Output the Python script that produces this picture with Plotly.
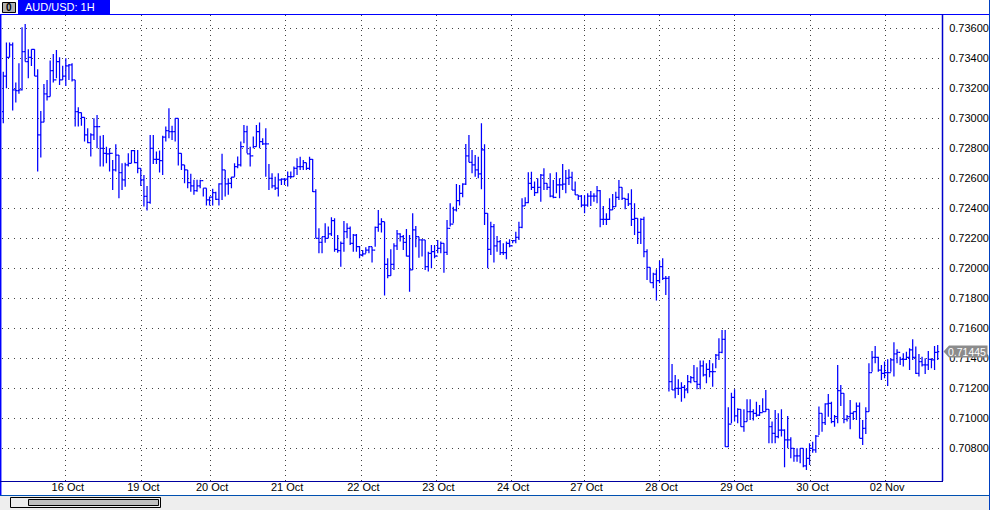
import plotly.graph_objects as go

# prices in points (1 point = 0.00001)
first_open = 73044
highs = [
73311,73505,73505,73505,73238,73367,73607,73629,73460,73460,73460,73327,73049,73229,73256,73385,73429,73456,73407,73351,
73400,73362,73367,73256,73074,73038,73007,72934,72900,73000,73022,72883,72889,72811,72800,72722,72827,72755,72700,72704,
72767,72789,72789,72789,72667,72622,72549,72889,72889,72778,72785,72883,72945,73067,72950,73000,73000,72767,72689,72656,
72630,72590,72590,72590,72534,72534,72479,72530,72511,72567,72763,72656,72600,72611,72700,72745,72845,72956,72950,72811,
72878,72956,72972,72867,72934,72696,72634,72611,72634,72600,72600,72645,72645,72678,72733,72744,72722,72704,72744,72729,
72527,72267,72211,72300,72278,72340,72333,72222,72178,72316,72300,72278,72229,72229,72149,72122,72140,72149,72144,72278,
72389,72333,72311,72067,72127,72167,72256,72233,72222,72262,72222,72367,72282,72211,72189,72189,72111,72156,72156,72189,
72178,72167,72322,72433,72411,72562,72556,72567,72829,72889,72789,72756,72744,72967,72827,72367,72311,72295,72216,72189,
72167,72178,72193,72189,72244,72311,72467,72473,72640,72644,72578,72600,72629,72667,72567,72633,72589,72640,72600,72696,
72656,72660,72644,72578,72489,72489,72489,72500,72516,72500,72549,72522,72416,72367,72467,72496,72511,72589,72540,
72467,72500,72527,72433,72333,72333,72344,72127,72007,71971,71993,72051,72067,71949,71949,71362,71289,71260,71240,71222,
71289,71282,71356,71340,71385,71385,71367,71389,71367,71429,71533,71589,71589,71074,71171,71193,71067,71060,71060,71127,
71127,71060,71111,71089,71133,71189,71060,70978,71056,71033,71060,70927,71016,70874,70800,70800,70800,70800,70800,70833,
70844,70889,71078,71033,71100,71162,71111,71022,71356,71222,71167,71022,71122,71044,71105,71105,70989,71074,71367,71449,
71482,71411,71356,71378,71393,71400,71507,71460,71411,71433,71444,71467,71527,71478,71429,71411,71400,71449,71400,71482,71489]
lows = [
72967,73200,73407,73052,73105,73163,73185,73378,73267,73349,73282,72645,72739,72974,73118,73145,73238,73267,73222,73256,
73216,73256,73245,72945,72945,72950,72845,72834,72745,72856,72800,72678,72678,72700,72645,72522,72645,72467,72522,72544,
72678,72700,72700,72633,72549,72412,72385,72430,72696,72696,72638,72622,72845,72867,72856,72845,72685,72656,72567,72534,
72511,72490,72511,72534,72479,72419,72419,72419,72456,72419,72456,72479,72490,72534,72611,72667,72678,72834,72767,72678,
72800,72811,72800,72822,72611,72522,72533,72522,72478,72556,72556,72545,72600,72611,72622,72656,72656,72656,72656,72508,
72200,72100,72100,72171,72200,72216,72111,72104,72011,72111,72200,72156,72111,72111,72067,72078,72100,72100,72038,72144,
72244,72238,71818,71933,71951,71989,72122,72178,72122,72078,71844,71989,72140,72071,72078,71989,71978,72000,72067,72100,
72100,71971,72089,72278,72300,72378,72418,72473,72556,72707,72633,72611,72600,72527,72289,72000,72089,72038,72111,72089,
72089,72060,72140,72167,72167,72189,72267,72416,72433,72522,72482,72500,72444,72522,72522,72473,72467,72500,72467,72522,
72500,72556,72522,72489,72456,72407,72367,72411,72416,72444,72433,72273,72289,72289,72322,72389,72411,72456,72456,
72393,72416,72282,72222,72162,72162,72073,71922,71905,71867,71785,71900,71922,71822,71178,71189,71133,71156,71111,71133,
71167,71233,71245,71193,71193,71278,71233,71273,71211,71333,71389,71433,70811,70807,70967,70978,70967,70944,70911,70978,
70989,70985,71011,71016,71044,71044,70833,70833,70833,70867,70878,70674,70800,70733,70711,70711,70700,70674,70656,70689,
70771,70771,70889,70911,70956,71011,70967,70944,70967,71082,70967,70978,70927,70989,70989,70867,70822,70896,71044,71311,
71367,71311,71256,71267,71216,71311,71278,71367,71356,71345,71389,71322,71389,71296,71278,71345,71296,71322,71333,71322,71389]
closes = [
73282,73407,73489,73189,73185,73189,73445,73378,73407,73460,73282,72889,72974,73163,73145,73318,73256,73378,73256,73282,
73349,73356,73256,73045,73038,73007,72889,72838,72889,72945,72945,72800,72767,72763,72767,72656,72755,72638,72589,72689,
72700,72785,72704,72667,72589,72479,72439,72800,72727,72727,72718,72874,72918,72911,72911,73000,72767,72689,72656,72572,
72550,72518,72550,72585,72534,72456,72475,72505,72460,72563,72656,72563,72567,72608,72678,72689,72811,72911,72763,72750,
72811,72911,72845,72830,72830,72600,72550,72534,72589,72594,72594,72611,72611,72667,72678,72678,72704,72667,72727,72511,
72200,72173,72211,72200,72229,72318,72127,72118,72167,72244,72267,72167,72222,72144,72089,72096,72122,72144,72122,72273,
72295,72311,72027,71951,72027,72149,72229,72211,72173,72082,71989,72256,72211,72189,72189,72011,72100,72111,72082,72133,
72167,72107,72267,72295,72389,72451,72500,72562,72749,72707,72689,72656,72629,72789,72367,72127,72278,72149,72178,72104,
72104,72167,72149,72184,72207,72273,72416,72438,72567,72540,72504,72540,72622,72567,72540,72482,72473,72556,72556,72562,
72600,72607,72522,72489,72482,72422,72422,72482,72482,72482,72518,72327,72327,72327,72389,72411,72473,72540,72467,
72460,72429,72327,72333,72240,72327,72111,72007,71905,71962,71918,72011,71933,71933,71245,71189,71200,71200,71207,71189,
71245,71271,71245,71227,71349,71289,71327,71311,71311,71422,71440,71527,70811,70962,71140,71016,71060,70944,70978,71044,
71044,71033,71022,71038,71044,71060,70944,70900,70878,70922,70922,70856,70856,70800,70749,70749,70800,70683,70733,70800,
70789,70882,71033,70971,71096,71100,70978,71011,71185,71167,70993,71011,71033,71044,71082,70867,70933,71044,71304,71407,
71407,71322,71300,71304,71304,71389,71429,71440,71393,71393,71407,71456,71407,71300,71378,71356,71356,71393,71389,71440,71445]
tick_positions = [20, 44.2, 66.2, 90.2, 114.6, 138.6, 162.5, 186, 210, 234, 258.3, 282.2]
tick_labels = ["16 Oct", "19 Oct", "20 Oct", "21 Oct", "22 Oct", "23 Oct", "24 Oct", "27 Oct", "28 Oct", "29 Oct", "30 Oct", "02 Nov"]
price_ticks = [0.708, 0.710, 0.712, 0.714, 0.716, 0.718, 0.720, 0.722, 0.724, 0.726, 0.728, 0.730, 0.732, 0.734, 0.736]
last_price = 0.71445
title = "AUD/USD: 1H"

n = min(len(highs), len(lows), len(closes))
highs, lows, closes = highs[:n], lows[:n], closes[:n]
opens = [first_open] + closes[:-1]
print(len(highs), len(lows), len(closes))
sc = lambda a: [v / 100000 for v in a]

W, H = 990, 510
L, R, T, B = 2, 943, 15, 481
FONT = "Liberation Sans"
BLUE = "#0000FF"

fig = go.Figure(go.Ohlc(
    x=list(range(n)), open=sc(opens), high=sc(highs), low=sc(lows), close=sc(closes),
    increasing=dict(line=dict(color=BLUE, width=1.25)),
    decreasing=dict(line=dict(color=BLUE, width=1.25)),
    line=dict(width=1.25), tickwidth=0.5, hoverinfo="skip", showlegend=False))

px = lambda x: (x - L) / (R - L)
py = lambda y: (B - y) / (B - T)

def rect(x0, y0, x1, y1, fill, line=None, w=1):
    return dict(type="rect", xref="paper", yref="paper", x0=px(x0), x1=px(x1), y0=py(y0), y1=py(y1),
                fillcolor=fill, line=dict(color=line or fill, width=w if line else 0), layer="above")

def hline(x0, x1, y, color, w=1):
    return dict(type="line", xref="paper", yref="paper", x0=px(x0), x1=px(x1), y0=py(y), y1=py(y),
                line=dict(color=color, width=w), layer="above")

def vline(x, y0, y1, color, w=1):
    return dict(type="line", xref="paper", yref="paper", x0=px(x), x1=px(x), y0=py(y0), y1=py(y1),
                line=dict(color=color, width=w), layer="above")

ly = B - (last_price - 0.70582) * 15000
shapes = [
    rect(0, 496, 990, 510, "#EEEEEE"),
    hline(0, 990, 495.5, "#0050B0"),
    rect(10.5, 497.5, 160.5, 507.5, "#EEEEEE", "#000000"),
    rect(28.5, 499.5, 158.5, 505.5, "#C0C0C0", "#000000"),
    rect(18, 0, 110, 14, BLUE),
    rect(2.5, 2.5, 15.5, 12.5, "#B0B0B0", "#000000"),
    hline(0, 990, 14.5, BLUE),
    vline(0.7, 14, 495, BLUE, 1.5),
    vline(942.5, 14, 481, "#0000CC", 1.5),
    vline(989.5, 0, 510, "#0040C0"),
    hline(0, 943, 481.5, "#0000A0", 1),
    dict(type="path", xref="paper", yref="paper",
         path=f"M {px(943.5)} {py(ly)} L {px(949)} {py(ly-6)} L {px(987.5)} {py(ly-6)} L {px(987.5)} {py(ly+6)} L {px(949)} {py(ly+6)} Z",
         fillcolor="#8C8C8C", line=dict(width=0), layer="above"),
]

annots = [
    dict(text=title, xref="paper", yref="paper", x=px(23), y=py(7.5), xanchor="left", yanchor="middle",
         showarrow=False, font=dict(family=FONT, size=11, color="#FFFFFF")),
    dict(text="<b>0</b>", xref="paper", yref="paper", x=px(9), y=py(7.5), xanchor="center", yanchor="middle",
         showarrow=False, font=dict(family=FONT, size=10, color="#000000")),
    dict(text=f"{last_price:.5f}", xref="paper", yref="paper", x=px(946), y=py(ly), xanchor="left", yanchor="middle",
         showarrow=False, font=dict(family=FONT, size=10.5, color="#FFFFFF")),
]

fig.update_layout(
    width=W, height=H, autosize=False,
    margin=dict(l=L, r=W - R, t=T, b=H - B, pad=0),
    paper_bgcolor="#FFFFFF", plot_bgcolor="#FFFFFF",
    font=dict(family=FONT, size=11, color="#000000"),
    showlegend=False, shapes=shapes, annotations=annots,
    xaxis=dict(range=[(L - 3.3) / 3.125, (R - 3.3) / 3.125], rangeslider=dict(visible=False),
               tickmode="array", tickvals=tick_positions, ticktext=tick_labels, tickangle=0,
               showgrid=True, gridcolor="#404040", griddash="1px,4px", gridwidth=1,
               ticks="", ticklabelshift=2, ticklabelstandoff=-2,
               zeroline=False, showline=False),
    yaxis=dict(range=[0.70582, 0.736887], side="right",
               tickmode="array", tickvals=price_ticks, ticktext=[f"{v:.5f}" for v in price_ticks],
               showgrid=True, gridcolor="#404040", griddash="1px,5px", gridwidth=1,
               ticks="outside", ticklen=3, tickcolor="#FFFFFF",
               zeroline=False, showline=False),
)
fig.write_html("out.html", config=dict(displayModeBar=False),
               post_script="document.documentElement.style.margin='0';document.body.style.margin='0';document.body.style.overflow='hidden';")
